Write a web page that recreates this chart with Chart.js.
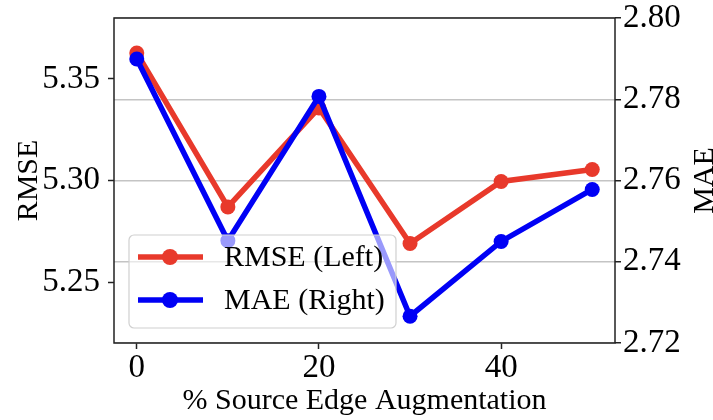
<!DOCTYPE html>
<html>
<head>
<meta charset="utf-8">
<script src="https://cdn.jsdelivr.net/npm/chart.js@4/dist/chart.umd.min.js"></script>
<style>
  html, body { margin: 0; padding: 0; background: #fff; }
  #wrap { width: 713px; height: 420px; }
</style>
</head>
<body>
<div id="wrap"><canvas id="chart"></canvas></div>
<script>
const augmentation = [0, 10, 20, 30, 40, 50];
const rmseValues = [5.3628, 5.2870, 5.3357, 5.2690, 5.2995, 5.3054];
const maeValues = [2.7899, 2.7452, 2.7807, 2.7266, 2.7450, 2.7578];
const xTicks = [0, 20, 40];
const rmseTicks = [5.25, 5.30, 5.35];
const maeTicks = [2.72, 2.74, 2.76, 2.78, 2.80];

const RED = "#e8392b";
const BLUE = "#0000f5";
const FONT = "'Liberation Serif', 'DejaVu Serif', serif";
const INK = "#222";

function toPoints(xs, ys) {
  return xs.map((x, i) => ({ x: x, y: ys[i] }));
}

// axes frame drawn under the lines
const framePlugin = {
  id: "frame",
  beforeDatasetsDraw(chart) {
    const { ctx, chartArea: a } = chart;
    ctx.save();
    ctx.strokeStyle = INK;
    ctx.lineWidth = 1.5;
    ctx.strokeRect(a.left, a.top, a.right - a.left, a.bottom - a.top);
    ctx.restore();
  }
};

// legend inside the plot, lower left, plus right axis title reading upward
const insideLegend = {
  id: "insideLegend",
  afterDatasetsDraw(chart) {
    const { ctx, chartArea: a } = chart;
    const bx = a.left + 15, by = a.top + 217, bw = 267, bh = 93;
    ctx.save();
    ctx.fillStyle = "rgba(255,255,255,0.6)";
    ctx.strokeStyle = "#d0d0d0";
    ctx.lineWidth = 1.2;
    ctx.beginPath();
    ctx.roundRect(bx, by, bw, bh, 5);
    ctx.fill();
    ctx.stroke();

    const rows = [chart.data.datasets[1], chart.data.datasets[0]];
    rows.forEach((ds, i) => {
      const y = by + 22 + i * 43;
      ctx.strokeStyle = ds.borderColor;
      ctx.lineWidth = 5.5;
      ctx.beginPath();
      ctx.moveTo(bx + 9, y);
      ctx.lineTo(bx + 74, y);
      ctx.stroke();
      ctx.fillStyle = ds.borderColor;
      ctx.beginPath();
      ctx.arc(bx + 41, y, 8, 0, Math.PI * 2);
      ctx.fill();
      ctx.fillStyle = "#000";
      ctx.font = "30px " + FONT;
      ctx.textBaseline = "middle";
      ctx.textAlign = "left";
      ctx.fillText(ds.label, bx + 95, y + 1);
    });

    ctx.translate(705, (a.top + a.bottom) / 2);
    ctx.rotate(-Math.PI / 2);
    ctx.font = "30px " + FONT;
    ctx.textAlign = "center";
    ctx.textBaseline = "middle";
    ctx.fillText("MAE", 0, 0);
    ctx.restore();
  }
};

const tickFont = { family: FONT, size: 33 };
const titleFont = { family: FONT, size: 30 };

// let the layout padding alone decide where the plot top sits
function fixYAxis(width) {
  return s => {
    s.width = width;
    s.paddingTop = 0;
    s.paddingBottom = 0;
  };
}

new Chart(document.getElementById("chart"), {
  type: "line",
  data: {
    datasets: [
      {
        label: "MAE (Right)",
        data: toPoints(augmentation, maeValues),
        yAxisID: "yRight",
        borderColor: BLUE,
        backgroundColor: BLUE,
        borderWidth: 5.5,
        pointRadius: 7.5,
        pointHoverRadius: 7.5,
        pointBorderWidth: 0,
        tension: 0,
        order: 0
      },
      {
        label: "RMSE (Left)",
        data: toPoints(augmentation, rmseValues),
        yAxisID: "yLeft",
        borderColor: RED,
        backgroundColor: RED,
        borderWidth: 5.5,
        pointRadius: 7.5,
        pointHoverRadius: 7.5,
        pointBorderWidth: 0,
        tension: 0,
        order: 1
      }
    ]
  },
  options: {
    responsive: true,
    maintainAspectRatio: false,
    animation: false,
    layout: { padding: { top: 18, left: 0, right: 0, bottom: 0 } },
    plugins: { legend: { display: false }, tooltip: { enabled: false } },
    scales: {
      x: {
        type: "linear",
        min: -2.5,
        max: 52.5,
        afterBuildTicks: s => { s.ticks = xTicks.map(v => ({ value: v })); },
        afterFit: s => { s.height = 77; s.paddingLeft = 0; s.paddingRight = 0; },
        ticks: { font: tickFont, color: "#000", padding: 0, maxRotation: 0 },
        grid: { drawOnChartArea: false, tickLength: 6, tickColor: INK, tickWidth: 1.5 },
        border: { display: false },
        title: { display: true, text: "% Source Edge Augmentation", font: titleFont, color: "#000", padding: { top: 0, bottom: 1 } }
      },
      yLeft: {
        type: "linear",
        position: "left",
        min: 5.22,
        max: 5.38,
        afterBuildTicks: s => { s.ticks = rmseTicks.map(v => ({ value: v })); },
        afterFit: fixYAxis(114),
        ticks: { font: tickFont, color: "#000", padding: 8, callback: v => v.toFixed(2) },
        grid: { drawOnChartArea: false, tickLength: 6, tickColor: INK, tickWidth: 1.5 },
        border: { display: false },
        title: { display: true, text: "RMSE", font: titleFont, color: "#000", padding: { top: 11, bottom: 0 } }
      },
      yRight: {
        type: "linear",
        position: "right",
        min: 2.72,
        max: 2.80,
        afterBuildTicks: s => { s.ticks = maeTicks.map(v => ({ value: v })); },
        afterFit: fixYAxis(98),
        ticks: { font: tickFont, color: "#000", padding: 2, callback: v => v.toFixed(2) },
        grid: { drawOnChartArea: true, color: "#c4c4c4", lineWidth: 1.5, tickLength: 6, tickColor: INK, tickWidth: 1.5 },
        border: { display: false },
        title: { display: false }
      }
    }
  },
  plugins: [framePlugin, insideLegend]
});
</script>
</body>
</html>
